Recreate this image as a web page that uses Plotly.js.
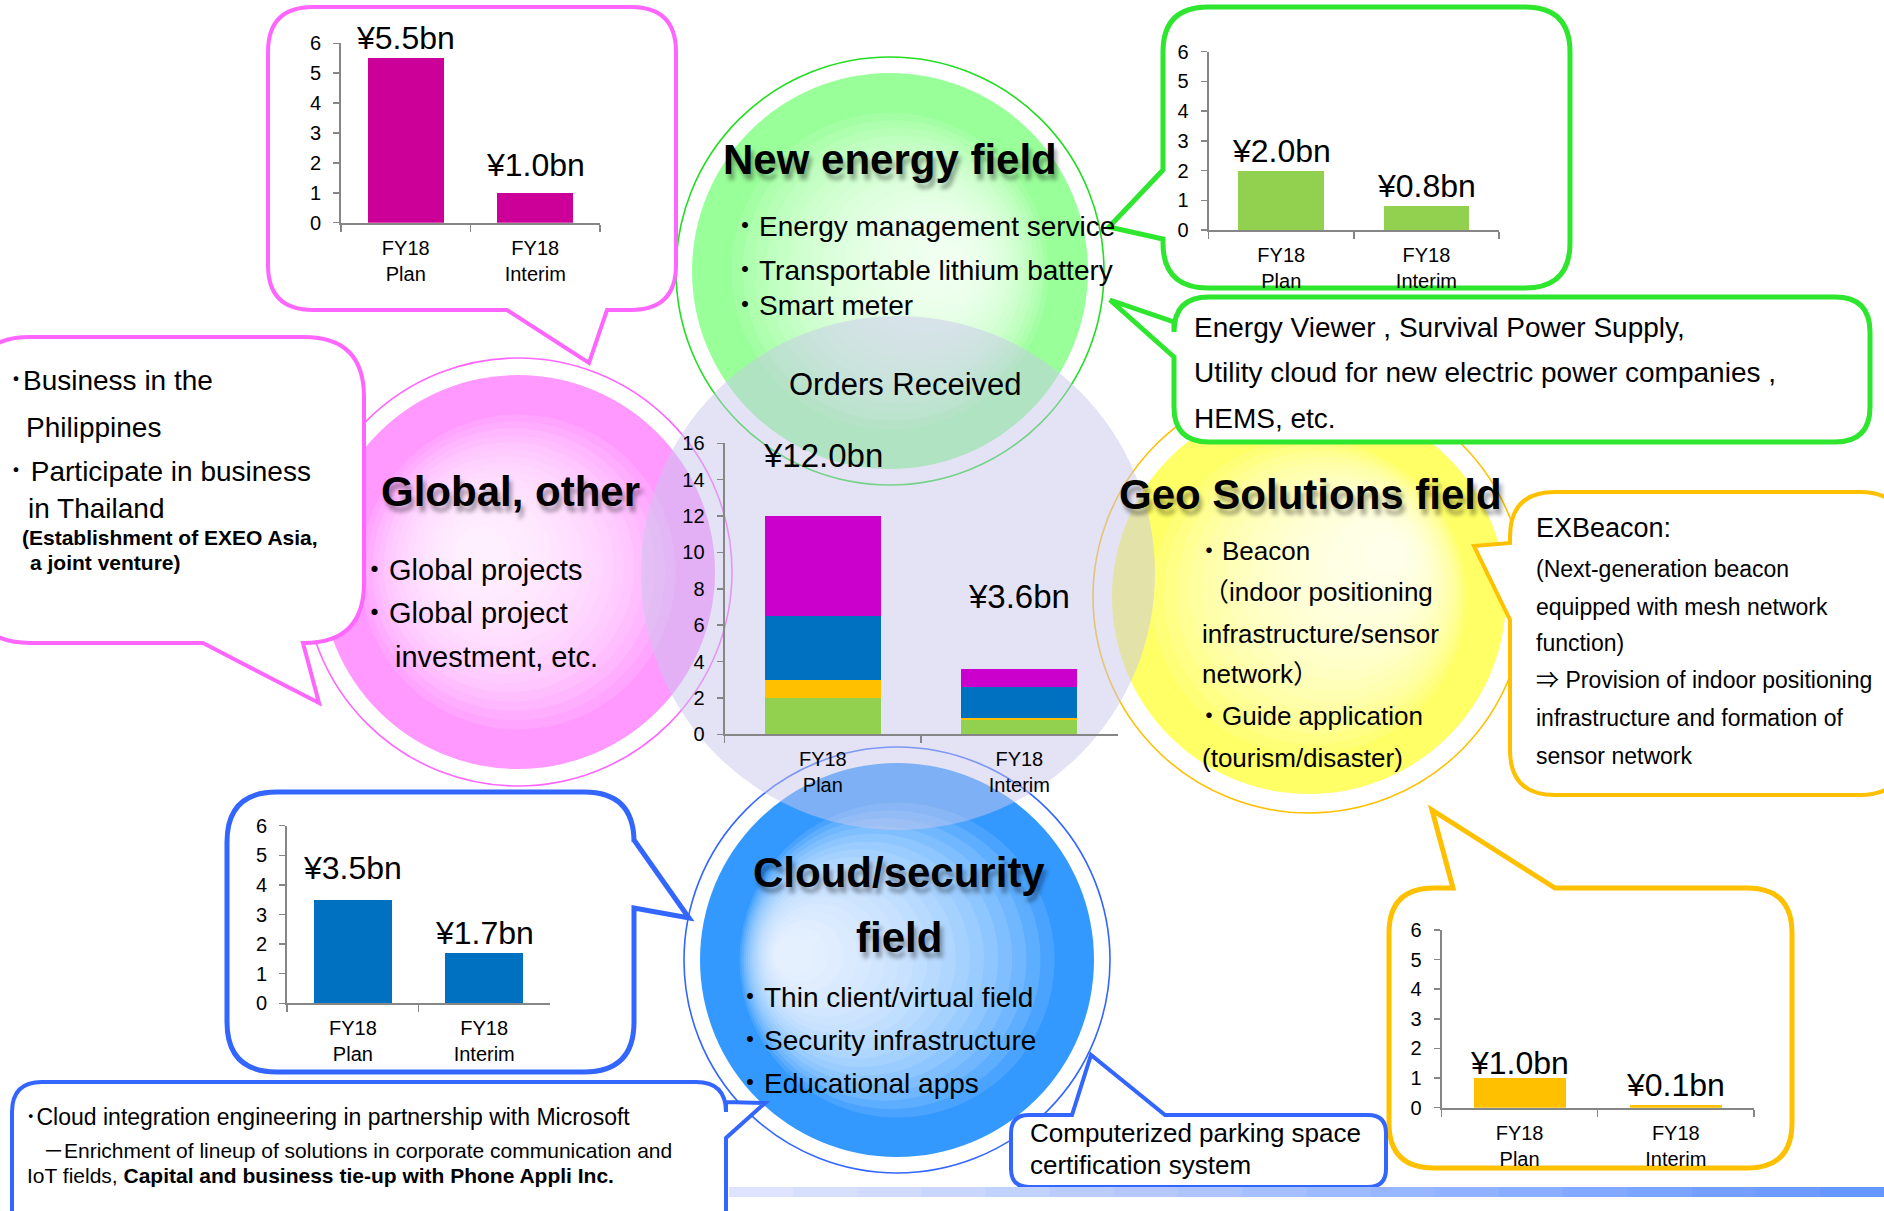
<!DOCTYPE html>
<html><head><meta charset="utf-8">
<script src="https://cdn.plot.ly/plotly-3.0.1.min.js"></script>
<style>html,body{margin:0;padding:0;background:#fff}#chart{width:1884px;height:1211px}</style>
</head><body><div id="chart"></div>
<script>
// ---------------- data ----------------
const categories = ['FY18<br>Plan', 'FY18<br>Interim'];
const newEnergy = [2.0, 0.8];
const geoSolutions = [1.0, 0.1];
const cloudSecurity = [3.5, 1.7];
const globalOther = [5.5, 1.0];
const smallTicks = [0, 1, 2, 3, 4, 5, 6];
const centerTicks = [0, 2, 4, 6, 8, 10, 12, 14, 16];
const totals = categories.map((c, i) => newEnergy[i] + geoSolutions[i] + cloudSecurity[i] + globalOther[i]);
const fmt = v => '¥' + v.toFixed(1) + 'bn';

// ---------------- helpers ----------------
const W = 1884, H = 1211;
const X = v => v / W, Y = v => 1 - v / H;
const FONT = 'Liberation Sans, Arial, Noto Sans CJK JP, sans-serif';
const GRAY = '#868686';

function xax(x0, x1, anchor) {
  return {domain: [X(x0), X(x1)], anchor: anchor, type: 'category', showline: true, linecolor: GRAY, linewidth: 2,
    ticks: 'outside', tickson: 'boundaries', ticklen: 7, tickwidth: 1.5, tickcolor: GRAY, ticklabelstandoff: 6,
    tickfont: {family: FONT, size: 20, color: '#000'}, showgrid: false, zeroline: false, fixedrange: true};
}
function yax(yTop, yBottom, anchor, max, vals) {
  return {domain: [Y(yBottom), Y(yTop)], anchor: anchor, range: [0, max], tickvals: vals, showline: true,
    linecolor: GRAY, linewidth: 2, ticks: 'outside', ticklen: 6, tickwidth: 1.5, tickcolor: GRAY, ticklabelstandoff: 8,
    tickfont: {family: FONT, size: 20, color: '#000'}, showgrid: false, zeroline: false, fixedrange: true};
}

// ---------------- traces ----------------
const bw = 0.59;
const traces = [
  {type: 'bar', x: categories, y: newEnergy, marker: {color: '#92D050'}, xaxis: 'x', yaxis: 'y', width: bw},
  {type: 'bar', x: categories, y: geoSolutions, marker: {color: '#FFC000'}, xaxis: 'x', yaxis: 'y', width: bw},
  {type: 'bar', x: categories, y: cloudSecurity, marker: {color: '#0070C0'}, xaxis: 'x', yaxis: 'y', width: bw},
  {type: 'bar', x: categories, y: globalOther, marker: {color: '#CC00CC'}, xaxis: 'x', yaxis: 'y', width: bw},
  {type: 'bar', x: categories, y: globalOther, marker: {color: '#CC0099'}, xaxis: 'x2', yaxis: 'y2', width: bw},
  {type: 'bar', x: categories, y: newEnergy, marker: {color: '#92D050'}, xaxis: 'x3', yaxis: 'y3', width: bw},
  {type: 'bar', x: categories, y: cloudSecurity, marker: {color: '#0070C0'}, xaxis: 'x4', yaxis: 'y4', width: bw},
  {type: 'bar', x: categories, y: geoSolutions, marker: {color: '#FFC000'}, xaxis: 'x5', yaxis: 'y5', width: bw}
].map(t => Object.assign(t, {hoverinfo: 'skip', marker: Object.assign(t.marker, {line: {width: 0}})}));

// ---------------- shapes ----------------
const shapes = [];
function circ(cx, cy, r, fill, line) {
  return {type: 'circle', xref: 'paper', yref: 'paper', layer: 'below',
    x0: X(cx - r), x1: X(cx + r), y0: Y(cy + r), y1: Y(cy - r),
    fillcolor: fill || 'rgba(0,0,0,0)', line: line || {width: 0}};
}
const fields = [
  {c: [518, 572], rf: 197, rr: 214, color: '#FF99FF', ring: '#FF66FF', hl: [480, 552]},
  {c: [890, 271], rf: 198, rr: 214, color: '#99FF99', ring: '#22DD22', hl: [945, 262]},
  {c: [1309, 597], rf: 197, rr: 216, color: '#FFFF66', ring: '#FFC000', hl: [1385, 555]},
  {c: [897, 960], rf: 197, rr: 213, color: '#3399FF', ring: '#3366FF', hl: [795, 955]}
];
const N = 18;
fields.forEach(f => {
  shapes.push(circ(f.c[0], f.c[1], f.rf, f.color));
  for (let k = 0; k < N; k++) {
    const t = k / (N - 1);
    const r = f.rf * (0.8 - 0.7 * t);
    const cx = f.c[0] + t * (f.hl[0] - f.c[0]);
    const cy = f.c[1] + t * (f.hl[1] - f.c[1]);
    shapes.push(circ(cx, cy, r, 'rgba(255,255,255,0.115)'));
  }
});
fields.forEach(f => shapes.push(circ(f.c[0], f.c[1], f.rr, null, {color: f.ring, width: 1.6})));
// central lavender disc
shapes.push(circ(898, 573, 257, 'rgba(200,200,236,0.5)'));

function callout(x0, y0, x1, y1, r, side, tail, color, width) {
  const P = (x, y) => X(x).toFixed(5) + ',' + Y(y).toFixed(5);
  const T = s => (side === s ? tail.map(p => ' L' + P(p[0], p[1])).join('') : '');
  let d = 'M' + P(x0 + r, y0) + T('top');
  d += ' L' + P(x1 - r, y0) + ' Q' + P(x1, y0) + ' ' + P(x1, y0 + r) + T('right');
  d += ' L' + P(x1, y1 - r) + ' Q' + P(x1, y1) + ' ' + P(x1 - r, y1) + T('bottom');
  d += ' L' + P(x0 + r, y1) + ' Q' + P(x0, y1) + ' ' + P(x0, y1 - r) + T('left');
  d += ' L' + P(x0, y0 + r) + ' Q' + P(x0, y0) + ' ' + P(x0 + r, y0) + ' Z';
  return {type: 'path', xref: 'paper', yref: 'paper', layer: 'below', path: d, fillcolor: '#FFFFFF',
    line: {color: color, width: width}};
}
const PINK = '#FF66FF', GREEN = '#2EE62E', YEL = '#FFC000', BLUE = '#3366FF';
shapes.push(callout(268, 7, 676, 310, 45, 'bottom', [[607, 310], [589, 363], [507, 310]], PINK, 4));
shapes.push(callout(-30, 337, 364, 643, 60, 'bottom', [[303, 643], [319, 703], [203, 643]], PINK, 4));
shapes.push(callout(1163, 7, 1570, 288, 45, 'left', [[1163, 239], [1109, 227], [1163, 170]], GREEN, 5));
shapes.push(callout(1174, 297, 1870, 442, 35, 'left', [[1174, 357], [1110, 300], [1174, 322]], GREEN, 5));
shapes.push(callout(1510, 492, 1905, 795, 45, 'left', [[1510, 620], [1474, 546], [1510, 543]], YEL, 4));
shapes.push(callout(1389, 888, 1792, 1168, 45, 'top', [[1453, 888], [1432, 810], [1555, 888]], YEL, 5));
shapes.push(callout(227, 792, 634, 1072, 50, 'right', [[634, 840], [689, 918], [634, 908]], BLUE, 5));
shapes.push(callout(12, 1082, 726, 1245, 30, 'right', [[726, 1102], [765, 1103], [726, 1138]], BLUE, 4));
shapes.push(callout(1011, 1115, 1386, 1187, 18, 'top', [[1072, 1115], [1091, 1055], [1165, 1115]], BLUE, 4));

// bottom gradient strip
const segs = 18, gx0 = 729, gx1 = 1884;
for (let i = 0; i < segs; i++) {
  const t = i / (segs - 1);
  const c = [Math.round(222 - 120 * t), Math.round(228 - 78 * t), 255];
  shapes.push({type: 'rect', xref: 'paper', yref: 'paper', layer: 'below',
    x0: X(gx0 + (gx1 - gx0) * i / segs), x1: X(gx0 + (gx1 - gx0) * (i + 1) / segs + 1),
    y0: Y(1197), y1: Y(1187), fillcolor: 'rgb(' + c.join(',') + ')', line: {width: 0}});
}

// ---------------- annotations ----------------
const ann = [];
function txt(text, x, y, size, o) {
  o = o || {};
  const font = {family: FONT, size: size, color: o.color || '#000'};
  if (o.shadow) font.shadow = o.shadow;
  ann.push({xref: 'paper', yref: 'paper', x: X(x), y: Y(y), text: text, showarrow: false,
    xanchor: o.anchor || 'left', yanchor: 'middle', xshift: o.xs || 0, yshift: o.ys || 0, font: font});
}
function title(text, x, y) {
  txt('<b>' + text + '</b>', x, y, 42, {anchor: 'center', shadow: '3px 6px 4px rgba(0,0,0,0.35)'});
}
// bar value labels
function barLabels(xa, ya, vals, shifts, size) {
  vals.forEach((v, i) => ann.push({xref: xa, yref: ya, x: categories[i], y: v, text: fmt(v), showarrow: false,
    xanchor: 'center', yanchor: 'bottom', yshift: shifts[i], font: {family: FONT, size: size, color: '#000'}}));
}
barLabels('x', 'y', totals, [40, 52], 33);
barLabels('x2', 'y2', globalOther, [0, 8], 32);
barLabels('x3', 'y3', newEnergy, [0, 0], 32);
barLabels('x4', 'y4', cloudSecurity, [12, 0], 32);
barLabels('x5', 'y5', geoSolutions, [-5, 0], 32);

title('New energy field', 890, 160);
title('Global, other', 510, 492);
title('Geo Solutions field', 1310, 494);
title('Cloud/security', 899, 872);
title('field', 899, 937);

txt('・Energy management service', 729, 227, 28);
txt('・Transportable lithium battery', 729, 270, 28);
txt('・Smart meter', 729, 305, 28);
txt('Orders Received', 905, 384, 31, {anchor: 'center'});

txt('・Global projects', 358, 570, 29);
txt('・Global project', 358, 613, 29);
txt('investment, etc.', 393, 657, 29);

txt('・Beacon', 1194, 551, 26);
txt('（indoor positioning', 1201, 592, 26);
txt('infrastructure/sensor', 1200, 634, 26);
txt('network）', 1200, 674, 26);
txt('・Guide application', 1194, 716, 26);
txt('(tourism/disaster)', 1200, 758, 26);

txt('・Thin client/virtual field', 734, 997, 28);
txt('・Security infrastructure', 734, 1040, 28);
txt('・Educational apps', 734, 1083, 28);

txt('･Business in the', 7, 380, 28);
txt('Philippines', 24, 427, 28);
txt('･ Participate in business', 7, 472, 28);
txt('in Thailand', 26, 508, 28);
txt('<b>(Establishment of EXEO Asia,</b>', 20, 538, 21);
txt('<b>a joint venture)</b>', 28, 563, 21);

txt('Energy Viewer , Survival Power Supply,', 1192, 327, 28);
txt('Utility cloud for new electric power companies ,', 1192, 373, 28);
txt('HEMS, etc.', 1192, 418, 28);

txt('EXBeacon:', 1534, 528, 27);
txt('(Next-generation beacon', 1534, 569, 23);
txt('equipped with mesh network', 1534, 607, 23);
txt('function)', 1534, 643, 23);
txt('⇒ Provision of indoor positioning', 1534, 680, 23);
txt('infrastructure and formation of', 1534, 718, 23);
txt('sensor network', 1534, 756, 23);

txt('･Cloud integration engineering in partnership with Microsoft', 23, 1117, 23);
txt('－Enrichment of lineup of solutions in corporate communication and', 41, 1150, 21);
txt('IoT fields, <b>Capital and business tie-up with Phone Appli Inc.</b>', 25, 1175, 21);

txt('Computerized parking space', 1028, 1133, 26);
txt('certification system', 1028, 1165, 26);

// ---------------- layout ----------------
const layout = {
  width: W, height: H, autosize: false, margin: {l: 0, r: 0, t: 0, b: 0, pad: 0},
  paper_bgcolor: '#FFFFFF', plot_bgcolor: 'rgba(0,0,0,0)', showlegend: false,
  barmode: 'stack', font: {family: FONT, color: '#000'},
  xaxis: xax(724.6, 1117.6, 'y'), yaxis: yax(443.3, 734.3, 'x', 16, centerTicks),
  xaxis2: xax(341, 600, 'y2'), yaxis2: yax(43.3, 222.7, 'x2', 6, smallTicks),
  xaxis3: xax(1208.7, 1499, 'y3'), yaxis3: yax(51.7, 230, 'x3', 6, smallTicks),
  xaxis4: xax(287.2, 549.9, 'y4'), yaxis4: yax(825.7, 1003.3, 'x4', 6, smallTicks),
  xaxis5: xax(1441.5, 1753.9, 'y5'), yaxis5: yax(930, 1107.7, 'x5', 6, smallTicks),
  shapes: shapes, annotations: ann
};
Plotly.newPlot('chart', traces, layout, {displayModeBar: false, staticPlot: true});
</script>
</body></html>
